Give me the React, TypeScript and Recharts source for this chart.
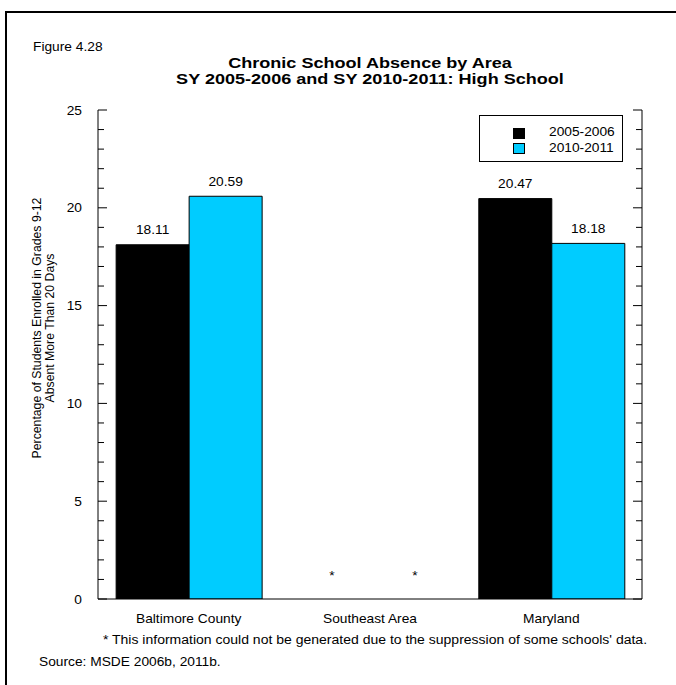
import { Bar, BarChart, LabelList, Legend, XAxis, YAxis } from "recharts";

// data (percent of HS students absent > 20 days)
const AREAS = ["Baltimore County", "Southeast Area", "Maryland"];
const SY_2005_2006: (number | null)[] = [18.11, null, 20.47]; // Southeast suppressed
const SY_2010_2011: (number | null)[] = [20.59, null, 18.18];
const SERIES = ["2005-2006", "2010-2011"];
const Y_TICKS = [0, 1, 2, 3, 4, 5, 6, 7, 8, 9, 10, 11, 12, 13, 14, 15, 16, 17, 18, 19, 20, 21, 22, 23, 24, 25];
const Y_LABELS = [0, 5, 10, 15, 20, 25];

const BLACK = "#000000";
const CYAN = "#00ccff";
const FONT = '"Liberation Sans", Arial, Helvetica, sans-serif';
const SX = 1.1; // the source figure is a bit wide

// suppressed cells get an invisible marker bar so the "*" can sit on the baseline
const rows = AREAS.map((area, i) => ({
  area,
  y2006: SY_2005_2006[i],
  y2011: SY_2010_2011[i],
  star2006: SY_2005_2006[i] == null ? 0 : null,
  star2011: SY_2010_2011[i] == null ? 0 : null,
}));

function LeftTick({ x, y, payload }: any) {
  const v = payload.value;
  const major = Y_LABELS.includes(v);
  return (
    <g>
      <line x1={x} x2={x + (major ? 9 : 6)} y1={y} y2={y} stroke={BLACK} />
      {major && (
        <text
          transform={`translate(${x - 16},${y}) scale(${SX},1)`}
          textAnchor="end"
          dy="0.36em"
          fontSize={12.5}
          fontFamily={FONT}
          fill={BLACK}
        >
          {v}
        </text>
      )}
    </g>
  );
}

function RightTick({ x, y, payload }: any) {
  const major = Y_LABELS.includes(payload.value);
  return <line x1={x - (major ? 9 : 6)} x2={x} y1={y} y2={y} stroke={BLACK} />;
}

function AreaTick({ x, y, payload }: any) {
  return (
    <text
      transform={`translate(${x},${y + 24}) scale(${SX},1)`}
      textAnchor="middle"
      fontSize={12.5}
      fontFamily={FONT}
      fill={BLACK}
    >
      {payload.value}
    </text>
  );
}

function ValueLabel({ x, y, width, value }: any) {
  if (value == null) return null;
  return (
    <text
      transform={`translate(${x + width / 2},${y - 10.5}) scale(${SX},1)`}
      textAnchor="middle"
      fontSize={12.5}
      fontFamily={FONT}
      fill={BLACK}
    >
      {Number(value).toFixed(2)}
    </text>
  );
}

function StarLabel({ x, y, width, height, value, shift = 0 }: any) {
  if (value == null) return null;
  const base = y + (height || 0);
  return (
    <text
      transform={`translate(${x + width / 2 + shift},${base - 19}) scale(${SX},1)`}
      textAnchor="middle"
      fontSize={12.5}
      fontFamily={FONT}
      fill={BLACK}
    >
      *
    </text>
  );
}

function LegendBox() {
  const colors = [BLACK, CYAN];
  return (
    <div
      style={{
        width: 144,
        height: 47,
        border: "1.5px solid #000",
        boxSizing: "border-box",
        position: "relative",
        background: "#fff",
        fontFamily: FONT,
        fontSize: 12.5,
        lineHeight: "12.5px",
      }}
    >
      {SERIES.map((name, i) => (
        <div key={name}>
          <div
            style={{
              position: "absolute",
              left: 33,
              top: 12 + i * 15,
              width: 10,
              height: 9,
              background: colors[i],
              border: "1px solid #000",
            }}
          />
          <div
            style={{
              position: "absolute",
              left: 69,
              top: 10 + i * 16,
              transform: `scaleX(${SX})`,
              transformOrigin: "left",
              whiteSpace: "nowrap",
            }}
          >
            {name}
          </div>
        </div>
      ))}
    </div>
  );
}

const txt = (extra: React.CSSProperties): React.CSSProperties => ({
  position: "absolute",
  fontFamily: FONT,
  fontSize: 12.5,
  lineHeight: "12.5px",
  color: "#000",
  whiteSpace: "nowrap",
  transform: `scaleX(${SX})`,
  ...extra,
});

const titleLine = (top: number): React.CSSProperties =>
  txt({
    left: 120,
    top,
    width: 500,
    textAlign: "center",
    fontSize: 15.5,
    lineHeight: "15.5px",
    fontWeight: "bold",
    transform: "scaleX(1.165)",
    transformOrigin: "center",
  });

export default function App() {
  return (
    <div style={{ position: "absolute", left: 0, top: 0, width: 676, height: 685, overflow: "hidden", background: "#fff" }}>
      <div
        style={{
          position: "absolute",
          left: 5,
          top: 11,
          width: 720,
          height: 720,
          border: "2px solid #000",
        }}
      />
      <div style={{ position: "absolute", left: 0, top: 0 }}>
        <BarChart
          width={676}
          height={685}
          data={rows}
          margin={{ top: 110, right: 24, bottom: 56, left: 58 }}
          barCategoryGap="10%"
          barGap={0}
        >
          <XAxis
            dataKey="area"
            height={30}
            interval={0}
            tickLine={false}
            tickSize={0}
            tickMargin={0}
            tick={<AreaTick />}
            axisLine={{ stroke: BLACK }}
          />
          <XAxis xAxisId="top" dataKey="area" orientation="top" height={0} tick={false} tickLine={false} axisLine={{ stroke: BLACK }} />
          <YAxis
            width={40}
            type="number"
            domain={[0, 25]}
            ticks={Y_TICKS}
            interval={0}
            allowDataOverflow
            tickLine={false}
            tickSize={0}
            tickMargin={0}
            tick={<LeftTick />}
            axisLine={{ stroke: BLACK }}
          />
          <YAxis
            yAxisId="r"
            orientation="right"
            width={10}
            type="number"
            domain={[0, 25]}
            ticks={Y_TICKS}
            interval={0}
            allowDataOverflow
            tickLine={false}
            tickSize={0}
            tickMargin={0}
            tick={<RightTick />}
            axisLine={{ stroke: BLACK }}
          />
          <Legend
            layout="horizontal"
            verticalAlign="middle"
            align="center"
            wrapperStyle={{ left: 479, top: 115, width: 144, height: 47 }}
            content={<LegendBox />}
          />
          <Bar dataKey="y2006" name={SERIES[0]} stackId="a" fill={BLACK} stroke={BLACK} strokeWidth={1} isAnimationActive={false}>
            <LabelList dataKey="y2006" content={<ValueLabel />} />
          </Bar>
          <Bar dataKey="star2006" stackId="a" fill="transparent" minPointSize={1} isAnimationActive={false} legendType="none">
            <LabelList dataKey="star2006" content={<StarLabel shift={-2} />} />
          </Bar>
          <Bar dataKey="y2011" name={SERIES[1]} stackId="b" fill={CYAN} stroke={BLACK} strokeWidth={1} isAnimationActive={false}>
            <LabelList dataKey="y2011" content={<ValueLabel />} />
          </Bar>
          <Bar dataKey="star2011" stackId="b" fill="transparent" minPointSize={1} isAnimationActive={false} legendType="none">
            <LabelList dataKey="star2011" content={<StarLabel shift={8} />} />
          </Bar>
        </BarChart>
      </div>

      <div style={txt({ left: 33, top: 40.5, transformOrigin: "left" })}>Figure 4.28</div>
      <div style={titleLine(54.7)}>Chronic School Absence by Area</div>
      <div style={titleLine(71.2)}>SY 2005-2006 and SY 2010-2011: High School</div>
      <div
        style={{
          position: "absolute",
          left: -106,
          top: 315,
          width: 300,
          height: 26,
          textAlign: "center",
          fontFamily: FONT,
          fontSize: 12.25,
          lineHeight: "13px",
          color: "#000",
          whiteSpace: "nowrap",
          transform: "rotate(-90deg)",
        }}
      >
        Percentage of Students Enrolled in Grades 9-12
        <br />
        Absent More Than 20 Days
      </div>
      <div style={txt({ left: 75, top: 634, width: 600, textAlign: "center", transform: "scaleX(1.12)", transformOrigin: "center" })}>
        * This information could not be generated due to the suppression of some schools' data.
      </div>
      <div style={txt({ left: 39, top: 655.5, transformOrigin: "left" })}>Source: MSDE 2006b, 2011b.</div>
    </div>
  );
}
